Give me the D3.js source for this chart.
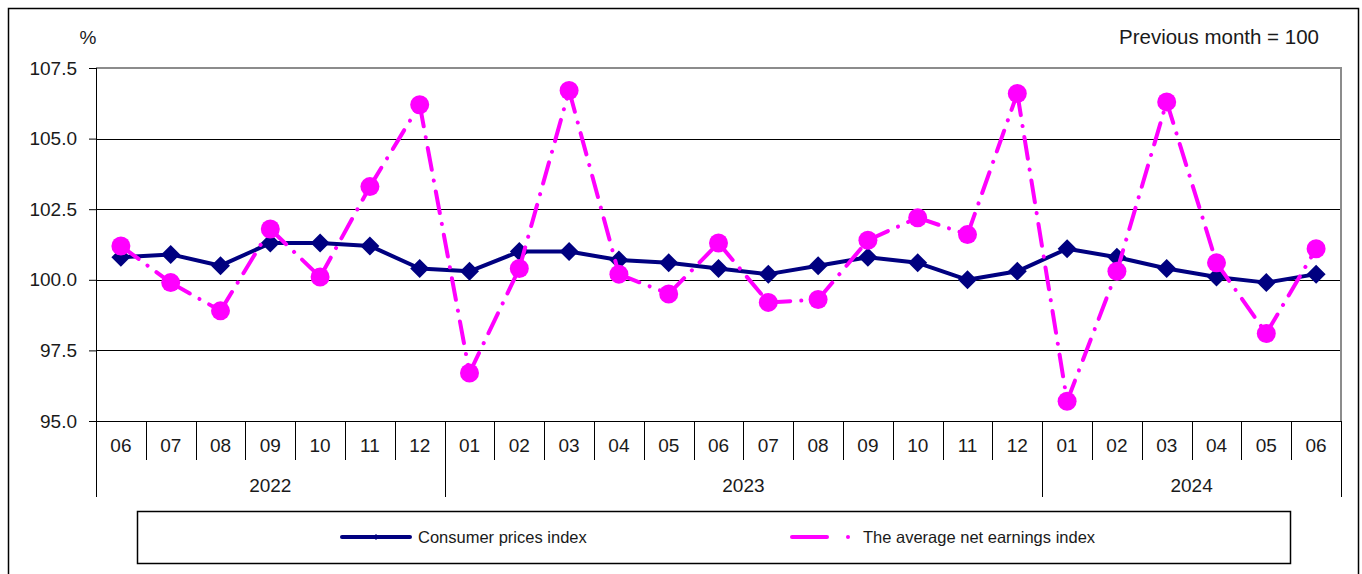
<!DOCTYPE html>
<html>
<head>
<meta charset="utf-8">
<script src="https://cdn.jsdelivr.net/npm/d3@7"></script>
<style>
  body { margin: 0; background: #fff; }
  svg text { font-family: "Liberation Sans", Arial, sans-serif; fill: #1a1a1a; }
</style>
</head>
<body>
<script>
// month labels along the category axis
let months = ["06","07","08","09","10","11","12",
              "01","02","03","04","05","06","07","08","09","10","11","12",
              "01","02","03","04","05","06"]
let years = ["2022", "2023", "2024"]
let yearMonths = [7, 12, 6]

// previous month = 100
let cpi = [100.8, 100.9, 100.5, 101.3, 101.3, 101.2, 100.4,
           100.3, 101.0, 101.0, 100.7, 100.6, 100.4, 100.2, 100.5, 100.8, 100.6, 100.0, 100.3,
           101.1, 100.8, 100.4, 100.1, 99.9, 100.2]
let earnings = [101.2, 99.9, 98.9, 101.8, 100.1, 103.3, 106.2,
                96.7, 100.4, 106.7, 100.2, 99.5, 101.3, 99.2, 99.3, 101.4, 102.2, 101.6, 106.6,
                95.7, 100.3, 106.3, 100.6, 98.1, 101.1]
let yTicks = [95, 97.5, 100, 102.5, 105, 107.5]

let svg = d3.select('body')
    .append('svg')
    .attr('width', 1362)
    .attr('height', 574)

// outer frame
svg.append('rect')
    .attr('x', 8.5).attr('y', 8.5)
    .attr('width', 1350).attr('height', 580)
    .style('fill', 'none')
    .style('stroke', '#000')
    .style('stroke-width', 1.5)

let plotL = 96, plotR = 1341, plotT = 68, plotB = 421

let x = d3.scaleBand().domain(d3.range(months.length)).range([plotL, plotR])
let y = d3.scaleLinear().domain([95, 107.5]).range([plotB, plotT])
let cx = i => x(i) + x.bandwidth() / 2

// gridlines
svg.append('g')
    .selectAll('line')
    .data(yTicks.filter(d => d > 95 && d < 107.5))
    .enter().append('line')
    .attr('x1', plotL).attr('x2', plotR)
    .attr('y1', d => Math.round(y(d)) + 0.5).attr('y2', d => Math.round(y(d)) + 0.5)
    .style('stroke', '#000')
    .style('stroke-width', 1)

// plot border top and right (grey)
svg.append('path')
    .attr('d', `M${plotL},${plotT}H${plotR}V${plotB}`)
    .style('fill', 'none')
    .style('stroke', '#8c8c8c')
    .style('stroke-width', 2)

// y axis
let yAxis = svg.append('g')
    .attr('transform', `translate(${plotL},0)`)
    .call(d3.axisLeft(y).tickValues(yTicks).tickFormat(d3.format('.1f')).tickSize(7).tickPadding(12))
yAxis.select('.domain').remove()
yAxis.selectAll('line').style('stroke', '#000')
yAxis.selectAll('text').style('font-size', '19px').style('fill', '#1a1a1a')
    .style('font-family', '"Liberation Sans", Arial, sans-serif')

// axis lines
svg.append('line')
    .attr('x1', plotL + 0.5).attr('x2', plotL + 0.5)
    .attr('y1', plotT).attr('y2', 497)
    .style('stroke', '#000')
svg.append('line')
    .attr('x1', plotL).attr('x2', plotR)
    .attr('y1', plotB + 0.5).attr('y2', plotB + 0.5)
    .style('stroke', '#000')

// month separators
svg.append('g')
    .selectAll('line')
    .data(d3.range(1, months.length + 1))
    .enter().append('line')
    .attr('x1', i => Math.round(i < months.length ? x(i) : plotR) + 0.5)
    .attr('x2', i => Math.round(i < months.length ? x(i) : plotR) + 0.5)
    .attr('y1', plotB)
    .attr('y2', 460)
    .style('stroke', '#000')

// month labels
svg.append('g')
    .selectAll('text')
    .data(months)
    .enter().append('text')
    .attr('x', (d, i) => cx(i))
    .attr('y', 452)
    .attr('text-anchor', 'middle')
    .style('font-size', '19px')
    .text(d => d)

// year separators and labels
let starts = d3.cumsum([0].concat(yearMonths))
svg.append('g')
    .selectAll('line')
    .data(starts.slice(1))
    .enter().append('line')
    .attr('x1', s => Math.round(s < months.length ? x(s) : plotR) + 0.5)
    .attr('x2', s => Math.round(s < months.length ? x(s) : plotR) + 0.5)
    .attr('y1', plotB)
    .attr('y2', 497)
    .style('stroke', '#000')

svg.append('g')
    .selectAll('text')
    .data(years)
    .enter().append('text')
    .attr('x', (d, i) => {
        let a = x(starts[i])
        let b = starts[i + 1] < months.length ? x(starts[i + 1]) : plotR
        return (a + b) / 2
    })
    .attr('y', 492)
    .attr('text-anchor', 'middle')
    .style('font-size', '19px')
    .text(d => d)

// unit labels
svg.append('text')
    .attr('x', 88).attr('y', 44)
    .attr('text-anchor', 'middle')
    .style('font-size', '19px')
    .text('%')
svg.append('text')
    .attr('x', 1319).attr('y', 44)
    .attr('text-anchor', 'end')
    .style('font-size', '20.5px')
    .text('Previous month = 100')

// consumer prices line
let line = d3.line().x((d, i) => cx(i)).y(d => y(d))
svg.append('path')
    .datum(cpi)
    .attr('d', line)
    .style('fill', 'none')
    .style('stroke', '#000080')
    .style('stroke-width', 4)
    .style('stroke-linejoin', 'round')

let diamond = 'M0,-9.5L9.5,0L0,9.5L-9.5,0Z'
svg.append('g')
    .selectAll('path')
    .data(cpi)
    .enter().append('path')
    .attr('d', diamond)
    .attr('transform', (d, i) => `translate(${cx(i)},${y(d)})`)
    .style('fill', '#000080')

// earnings line, pattern restarts at every point
let dash = '22,11,0.1,11'
svg.append('g')
    .selectAll('line')
    .data(d3.range(earnings.length - 1))
    .enter().append('line')
    .attr('x1', i => cx(i)).attr('y1', i => y(earnings[i]))
    .attr('x2', i => cx(i + 1)).attr('y2', i => y(earnings[i + 1]))
    .style('stroke', '#ff00ff')
    .style('stroke-width', 4)
    .style('stroke-linecap', 'round')
    .style('stroke-dasharray', dash)

svg.append('g')
    .selectAll('circle')
    .data(earnings)
    .enter().append('circle')
    .attr('cx', (d, i) => cx(i))
    .attr('cy', d => y(d))
    .attr('r', 9.5)
    .style('fill', '#ff00ff')

// legend
let legend = svg.append('g')
legend.append('rect')
    .attr('x', 137.5).attr('y', 511.5)
    .attr('width', 1153).attr('height', 52)
    .style('fill', '#fff')
    .style('stroke', '#000')
    .style('stroke-width', 1.5)

legend.append('line')
    .attr('x1', 342).attr('x2', 410).attr('y1', 537).attr('y2', 537)
    .style('stroke', '#000080').style('stroke-width', 4).style('stroke-linecap', 'round')
legend.append('path')
    .attr('d', 'M0,-3L3,0L0,3L-3,0Z')
    .attr('transform', 'translate(376,537)')
    .style('fill', '#000080')
legend.append('text')
    .attr('x', 418).attr('y', 543)
    .style('font-size', '16.5px')
    .text('Consumer prices index')

legend.append('line')
    .attr('x1', 792).attr('x2', 827).attr('y1', 537).attr('y2', 537)
    .style('stroke', '#ff00ff').style('stroke-width', 4).style('stroke-linecap', 'round')
legend.append('circle')
    .attr('cx', 848).attr('cy', 537).attr('r', 2)
    .style('fill', '#ff00ff')
legend.append('text')
    .attr('x', 863).attr('y', 543)
    .style('font-size', '16.5px')
    .text('The average net earnings index')
</script>
</body>
</html>
